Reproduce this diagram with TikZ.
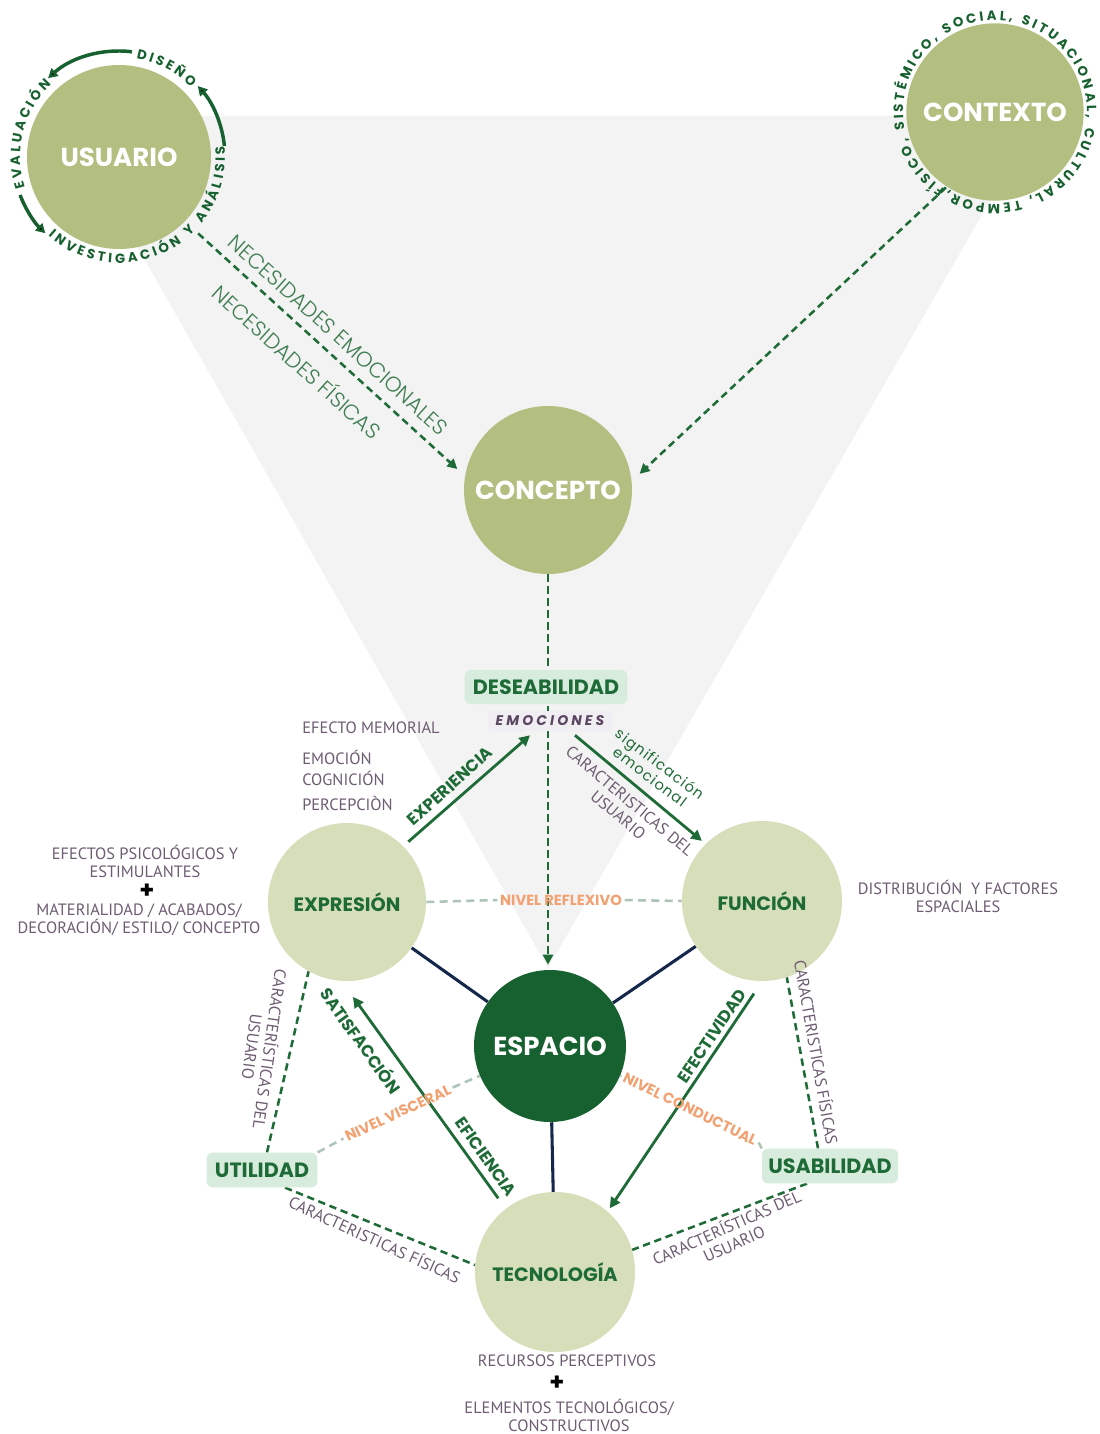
\documentclass[tikz,border=0pt]{standalone}
\usepackage{fontspec}
\setmainfont{PT Sans}
\newfontfamily\pop{Poppins}
\newfontfamily\popl{Poppins Light}
\newfontfamily\popsp{Poppins}[LetterSpace=22]
\newfontfamily\popsig{Poppins}[LetterSpace=8]
\usetikzlibrary{arrows.meta, calc, decorations.text}
\pgfdeclarelayer{bg}
\pgfsetlayers{bg,main}

\definecolor{olive}{HTML}{B2BF80}
\definecolor{sage}{HTML}{D6DEBA}
\definecolor{forest}{HTML}{17602F}
\definecolor{leaf}{HTML}{1E6B37}
\definecolor{needgreen}{HTML}{3F7E52}
\definecolor{mint}{HTML}{D7ECDD}
\definecolor{mauve}{HTML}{6E5C72}
\definecolor{peach}{HTML}{F2A272}
\definecolor{navy}{HTML}{15284B}
\definecolor{haze}{HTML}{F3F3F3}
\definecolor{mist}{HTML}{ADC4B6}
\definecolor{lilac}{HTML}{F1EEF3}
\definecolor{plum}{HTML}{5A4660}

\newcommand\ringfont{\pop\bfseries\fontsize{10}{10}\selectfont}

\tikzset{
  hub/.style={circle, inner sep=0pt, text=white,
    font=\pop\bfseries\fontsize{19.5}{22}\selectfont},
  facet/.style={circle, inner sep=0pt, fill=sage, text=leaf,
    font=\pop\bfseries\fontsize{14.5}{16}\selectfont},
  badge/.style={rounded corners=4.5pt, fill=mint, inner sep=0pt, text=leaf,
    font=\pop\bfseries\fontsize{15.5}{17}\selectfont},
  gdash/.style={draw=leaf, line width=1.9pt, dash pattern=on 5.5pt off 3.5pt},
  gtip/.style={-{Triangle[length=7.5pt,width=7.5pt]}},
  garrow/.style={draw=leaf, line width=2.1pt, -{Triangle[length=8pt,width=8pt]}},
  tiedash/.style={draw=mist, line width=1.9pt, dash pattern=on 6pt off 4pt},
  navyline/.style={draw=navy, line width=2.3pt},
  ringarrow/.style={draw=forest, line width=2.6pt, -{Triangle[length=7pt,width=7.5pt]}},
  tier/.style={text=peach, font=\pop\bfseries\fontsize{11}{13}\selectfont, inner sep=2pt},
  actlabel/.style={text=leaf, font=\pop\bfseries\fontsize{12.5}{14}\selectfont, inner sep=0pt},
  desc/.style={text=mauve, font=\fontsize{12.3}{13.5}\selectfont, align=center, inner sep=0pt},
  needtext/.style={text=needgreen, font=\popl\fontsize{16}{18}\selectfont, inner sep=0pt},
  plussign/.style={text=black, font=\pop\bfseries\fontsize{18}{18}\selectfont, inner sep=0pt},
  ringtext/.style={decorate, decoration={text along path, text align=fit to path,
    text color=forest, text={|\ringfont|#1}}},
}

\begin{document}
\begin{tikzpicture}[x=0.75pt, y=0.75pt]
\useasboundingbox (0,0) rectangle (1099,-1434);
\begin{pgfonlayer}{bg}
  \fill[white] (0,0) rectangle (1099,-1434);
  \fill[haze] (63,-116) -- (1039,-116) -- (548,-968) -- cycle;
\end{pgfonlayer}

% main circles
\node[hub, fill=olive, minimum size=138pt] (usuario) at (119,-157) {USUARIO};
\node[hub, fill=olive, minimum size=133pt] (contexto) at (995,-112) {CONTEXTO};
\node[hub, fill=olive, minimum size=126pt] (concepto) at (548,-490) {CONCEPTO};
\node[facet, minimum size=118.5pt] (expresion) at (347,-902) {EXPRESIÓN};
\node[facet, minimum size=120pt] (funcion) at (762,-901) {FUNCIÓN};
\node[hub, fill=forest, minimum size=114pt] (espacio) at (550,-1046) {ESPACIO};
\node[facet, minimum size=120pt] (tecnologia) at (555,-1272) {TECNOLOGÍA};

% qualities
\node[badge, minimum width=122pt, minimum height=25.5pt] (deseabilidad) at (546,-687) {DESEABILIDAD};
\node[badge, minimum width=83pt, minimum height=26pt] (utilidad) at (262,-1170) {UTILIDAD};
\node[badge, minimum width=102pt, minimum height=26pt] (usabilidad) at (830,-1166) {USABILIDAD};
\node[fill=lilac, rounded corners=3pt, minimum width=93pt, minimum height=15pt, inner sep=0pt,
      text=plum, font=\popsp\bfseries\itshape\fontsize{10.5}{11}\selectfont] (emociones) at (550,-721) {EMOCIONES};

% levels
\node[tier] (reflexivo) at (561,-900) {NIVEL REFLEXIVO};
\node[tier, rotate=25] (visceral) at (398,-1113) {NIVEL VISCERAL};
\node[tier, rotate=-26] (conductual) at (690,-1109) {NIVEL CONDUCTUAL};

% ring around USUARIO
\path[ringtext=DISEÑO] ($(usuario)+(80:100)$) arc[start angle=80, end angle=44, radius=75pt];
\path[ringtext=EVALUACIÓN] ($(usuario)+(198:99)$) arc[start angle=198, end angle=133, radius=74.25pt];
\path[ringtext={INVESTIGACIÓN Y ANÁLISIS}] ($(usuario)+(228:106)$) arc[start angle=228, end angle=366, radius=79.5pt];
\draw[ringarrow] ($(usuario)+(6:106)$) arc[start angle=6, end angle=42, radius=79.5pt];
\draw[ringarrow] ($(usuario)+(83:106)$) arc[start angle=83, end angle=132, radius=79.5pt];
\draw[ringarrow] ($(usuario)+(201:106)$) arc[start angle=201, end angle=226, radius=79.5pt];

% ring around CONTEXTO
\path[ringtext={FÍSICO, SISTÉMICO, SOCIAL, SITUACIONAL, CULTURAL, TEMPOR,}]
  ($(contexto)+(237:92)$) arc[start angle=237, end angle=-121, radius=69pt];

% connectors
\begin{pgfonlayer}{bg}
  \draw[gdash, gtip] ($(usuario)+(-44:110)$) -- ($(concepto)+(167:93)$);
  \draw[gdash, gtip] ($(contexto)+(237:90)$) -- ($(concepto)+(10:93)$);
  \draw[gdash, gtip] (concepto.south) -- ($(concepto.south |- espacio.north)+(0,5)$);
  \draw[gdash] ($(utilidad.north)+(5,0)$) -- (expresion.-119);
  \draw[gdash] ($(utilidad.south)+(23,0)$) -- (tecnologia.175);
  \draw[gdash] ($(usabilidad.north)+(-12,0)$) -- (funcion.-72);
  \draw[gdash] ($(usabilidad.south)+(-23,0)$) -- (tecnologia.16);

  \draw[navyline] (expresion) -- (espacio);
  \draw[navyline] (funcion) -- (espacio);
  \draw[navyline] (espacio) -- (tecnologia);

  \draw[tiedash] (expresion.east) -- (reflexivo.west);
  \draw[tiedash] (reflexivo.east) -- (funcion.west);
  \draw[tiedash] (utilidad.north east) -- (visceral.west);
  \draw[tiedash] (visceral.east) -- (espacio.203);
  \draw[tiedash] (espacio.-23) -- (conductual.west);
  \draw[tiedash] (conductual.east) -- (usabilidad.north west);

  \draw[garrow] ($(expresion)+(44.5:86)$) -- ($(emociones.south)+(-20,-4)$);
  \draw[garrow] ($(emociones.south)+(25,-4)$) -- ($(funcion)+(135:85)$);
  \draw[garrow] ($(tecnologia)+(127.6:93)$) -- ($(expresion)+(-86.4:95)$);
  \draw[garrow] ($(funcion)+(-95:93)$) -- ($(tecnologia)+(49.3:84)$);
\end{pgfonlayer}

% connector labels
\node[needtext, rotate=-42] (emocionales) at (338,-335) {NECESIDADES EMOCIONALES};
\node[needtext, rotate=-42] (fisicas) at (298,-361) {NECESIDADES FÍSICAS};
\node[actlabel, rotate=42] (experiencia) at (450,-786) {EXPERIENCIA};
\node[actlabel, rotate=-54.5] (satisfaccion) at (362,-1040) {SATISFACCIÓN};
\node[actlabel, rotate=-54.5] (eficiencia) at (486,-1157) {EFICIENCIA};
\node[actlabel, rotate=56] (efectividad) at (712,-1036) {EFECTIVIDAD};
\node[text=leaf, font=\popsig\fontsize{11}{9.5}\selectfont, align=center, inner sep=0pt, rotate=-37]
  (significacion) at (655,-770) {significación\\emocional};
\node[desc, rotate=-40] (usr1) at (624,-808) {CARACTERISTICAS DEL\\USUARIO};
\node[desc, rotate=-98] (usr2) at (262,-1048) {CARACTERÍSTICAS DEL\\USUARIO};
\node[desc, rotate=-24.6] (fis1) at (375,-1239) {CARACTERISTICAS FÍSICAS};
\node[desc, rotate=-80] (fis2) at (817,-1052) {CARACTERISTICAS FÍSICAS};
\node[desc, rotate=24] (usr3) at (730,-1235) {CARACTERÍSTICAS DEL\\USUARIO};

% descriptive notes
\node[desc, anchor=west] (memorial) at (302,-728) {EFECTO MEMORIAL};
\node[desc, anchor=west] (emocion) at (302,-757) {EMOCIÓN};
\node[desc, anchor=west] (cognicion) at (302,-778) {COGNICIÓN};
\node[desc, anchor=west] (percepcion) at (302,-803) {PERCEPCIÒN};

\node[desc] (psico) at (145,-861) {EFECTOS PSICOLÓGICOS Y\\ESTIMULANTES};
\node[plussign] (plus1) at (147,-891) {+};
\node[desc] (material) at (139,-920) {MATERIALIDAD / ACABADOS/\\DECORACIÓN/ ESTILO/ CONCEPTO};

\node[desc] (distrib) at (958,-896) {DISTRIBUCIÓN\ \ Y FACTORES\\ESPACIALES};

\node[desc] (recursos) at (567,-1361) {RECURSOS PERCEPTIVOS};
\node[plussign] (plus2) at (557,-1383) {+};
\node[desc] (elementos) at (569,-1415) {ELEMENTOS TECNOLÓGICOS/\\CONSTRUCTIVOS};
\end{tikzpicture}
\end{document}
